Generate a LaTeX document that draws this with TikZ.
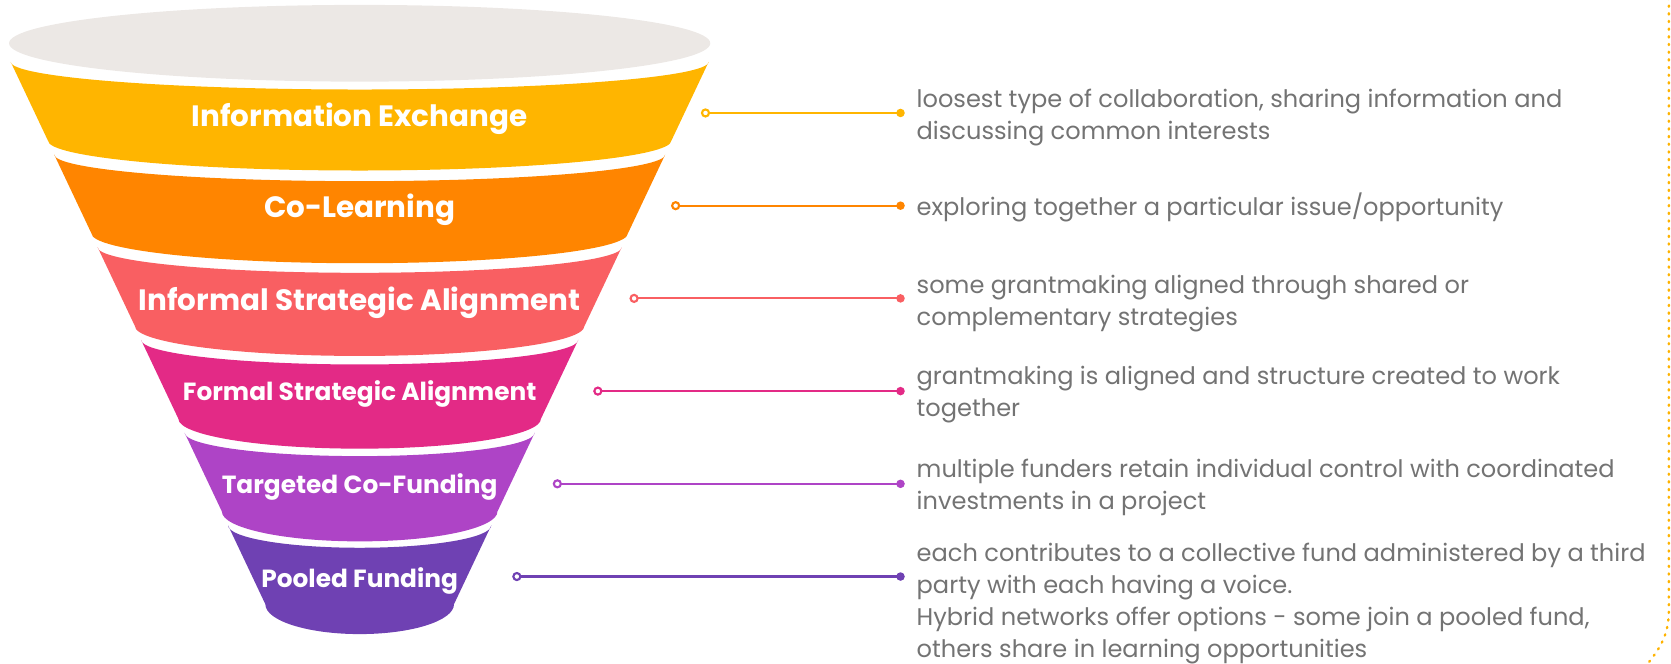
\documentclass[tikz,border=0pt]{standalone}
\usepackage{fontspec}
\setmainfont{Poppins}
\definecolor{bandA}{HTML}{FFB500}
\definecolor{bandB}{HTML}{FF8500}
\definecolor{bandC}{HTML}{F95F62}
\definecolor{bandD}{HTML}{E32A86}
\definecolor{bandE}{HTML}{AE44C6}
\definecolor{bandF}{HTML}{6F41B3}
\definecolor{topgray}{HTML}{ECE8E5}
\definecolor{desctext}{HTML}{737373}
\definecolor{dotgold}{HTML}{FFB300}
\begin{document}
\begin{tikzpicture}[x=1pt,y=-1pt,
  title/.style={text=white, font=\bfseries\fontsize{27.6}{32}\selectfont, inner sep=0pt},
  titlesmall/.style={title, font=\bfseries\fontsize{23.3}{28}\selectfont},
  desc/.style={text=desctext, font=\fontsize{22.6}{30}\selectfont, align=left, anchor=base west, inner sep=0pt},
  conn/.style={line width=2pt},
  opendot/.style={line width=2pt, fill=white},
  dotline/.style={dotgold, line width=2.2pt, line cap=round, dash pattern=on 1.2pt off 6pt}]
\useasboundingbox (0,0) rectangle (1568,623);
% top opening
\fill[topgray] (337.5,40.6) ellipse [x radius=329pt, y radius=36pt];
% bands
\foreach \i/\col/\dT in {0/bandA/26,1/bandB/25,2/bandC/24,3/bandD/23,4/bandE/22,5/bandF/21}{
  \pgfmathsetmacro\yTop{58+87*\i}
  \pgfmathsetmacro\yBot{132+87*\i}
  \pgfmathsetmacro\xTL{10+40.8*\i}
  \pgfmathsetmacro\xTR{675-\xTL}
  \pgfmathsetmacro\xBL{45+40.8*\i}
  \pgfmathsetmacro\xBR{675-\xBL}
  \pgfmathsetmacro\rTop{337.5-\xTL}
  \pgfmathsetmacro\rBot{337.5-\xBL}
  \pgfmathsetmacro\yTa{\yTop+0.5523*\dT}
  \pgfmathsetmacro\yTb{\yTop+\dT}
  \pgfmathsetmacro\yBa{\yBot+0.5523*28}
  \pgfmathsetmacro\yBb{\yBot+28}
  \pgfmathsetmacro\cTl{337.5-0.5523*\rTop}
  \pgfmathsetmacro\cTr{337.5+0.5523*\rTop}
  \pgfmathsetmacro\cBl{337.5-0.5523*\rBot}
  \pgfmathsetmacro\cBr{337.5+0.5523*\rBot}
  \fill[\col] (\xTL,\yTop) .. controls (\xTL,\yTa) and (\cTl,\yTb) .. (337.5,\yTb)
     .. controls (\cTr,\yTb) and (\xTR,\yTa) .. (\xTR,\yTop)
     -- (\xBR,\yBot) .. controls (\xBR,\yBa) and (\cBr,\yBb) .. (337.5,\yBb)
     .. controls (\cBl,\yBb) and (\xBL,\yBa) .. (\xBL,\yBot) -- cycle;
}
% titles
\node[title] (t1) at (337.5,111) {Information Exchange};
\node[title] (t2) at (337.5,197) {Co-Learning};
\node[title] (t3) at (337.5,284) {Informal Strategic Alignment};
\node[titlesmall] (t4) at (337.5,370) {Formal Strategic Alignment};
\node[titlesmall] (t5) at (337.5,457) {Targeted Co-Funding};
\node[titlesmall] (t6) at (337.5,545) {Pooled Funding};
% connectors
\foreach \n/\col/\xs/\yy in {1/bandA/662/106,2/bandB/634/193,3/bandC/595/280,4/bandD/561/367,5/bandE/523/454,6/bandF/485/541}{
  \coordinate (s\n) at (\xs,\yy);
  \coordinate (e\n) at (845,\yy);
  \draw[conn,\col] (s\n) -- (e\n);
  \fill[\col] (e\n) circle (4pt);
  \draw[opendot,draw=\col] (s\n) circle (3.3pt);
}
% descriptions (anchor = baseline of the last line)
\node[desc] (d1) at (860,131) {loosest type of collaboration, sharing information and\\discussing common interests};
\node[desc] (d2) at (860,202) {exploring together a particular issue/opportunity};
\node[desc] (d3) at (860,305) {some grantmaking aligned through shared or\\complementary strategies};
\node[desc] (d4) at (860,391) {grantmaking is aligned and structure created to work\\together};
\node[desc] (d5) at (860,478) {multiple funders retain individual control with coordinated\\investments in a project};
\node[desc] (d6) at (860,617) {each contributes to a collective fund administered by a third\\party with each having a voice.\\Hybrid networks offer options - some join a pooled fund,\\others share in learning opportunities};
% decorative dotted border
\draw[dotline] (1566,-2) -- (1566,572) .. controls (1566,596) and (1558,610) .. (1538,632);
\end{tikzpicture}
\end{document}
